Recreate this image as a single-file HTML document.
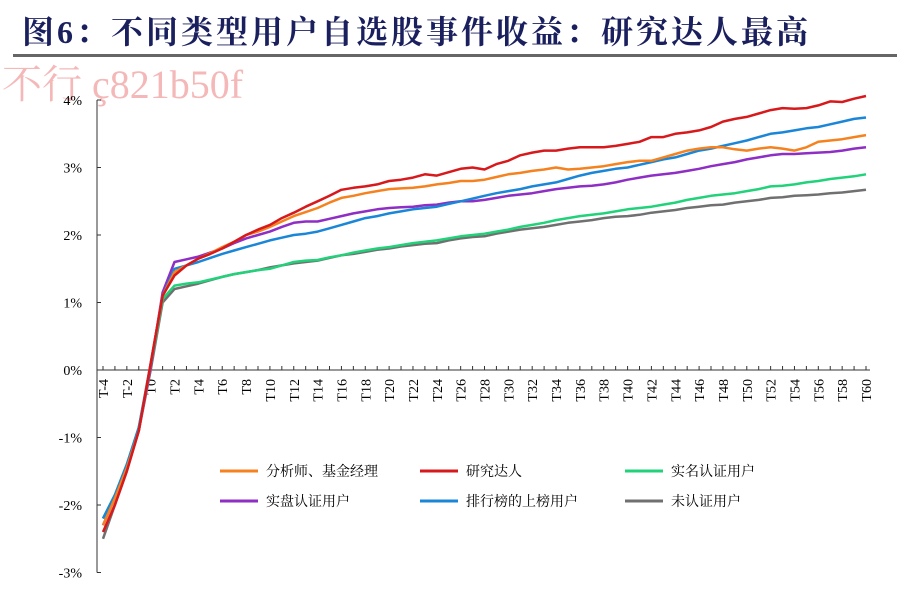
<!DOCTYPE html>
<html><head><meta charset="utf-8"><style>
body{margin:0;background:#fff;width:906px;height:586px;overflow:hidden;font-family:"Liberation Serif","Noto Serif CJK SC",serif}
</style></head><body>
<svg width="906" height="586" id="svg">
<text x="22" y="43" font-size="32" font-weight="bold" letter-spacing="3" fill="#1a1f5e" font-family="'Liberation Serif','Noto Serif CJK SC',serif">图6：不同类型用户自选股事件收益：研究达人最高</text>
<rect x="13" y="54" width="884" height="3" fill="#666"/>
<text x="2" y="98" font-size="40" fill="#f4b8b8" font-family="'Liberation Serif','Noto Serif CJK SC',serif">不行 ç821b50f</text>
<g id="axes"></g><g id="series"></g><g id="legend"></g>
</svg>
<script>
const categories=[];for(let i=-4;i<=60;i++)categories.push("T"+i);
const yTicks=[-3,-2,-1,0,1,2,3,4];
const seriesNames=["分析师、基金经理","研究达人","实名认证用户","实盘认证用户","排行榜的上榜用户","未认证用户"];
const seriesColors=["#f5821f","#d7191c","#21d27a","#8e2ec4","#1a86d8","#707070"];
const analyst=[-2.3,-1.9,-1.45,-0.9,0.1,1.1,1.45,1.55,1.65,1.73,1.82,1.9,2.0,2.05,2.12,2.2,2.28,2.34,2.4,2.48,2.55,2.58,2.62,2.65,2.68,2.69,2.7,2.72,2.75,2.77,2.8,2.8,2.82,2.86,2.9,2.92,2.95,2.97,3.0,2.97,2.98,3.0,3.02,3.05,3.08,3.1,3.1,3.15,3.2,3.25,3.28,3.3,3.3,3.27,3.25,3.28,3.3,3.28,3.25,3.3,3.38,3.4,3.42,3.45,3.48];
const expert=[-2.4,-2.0,-1.5,-0.9,0.1,1.1,1.4,1.55,1.65,1.72,1.8,1.9,2.0,2.08,2.15,2.25,2.33,2.42,2.5,2.58,2.67,2.7,2.72,2.75,2.8,2.82,2.85,2.9,2.88,2.93,2.98,3.0,2.97,3.05,3.1,3.18,3.22,3.25,3.25,3.28,3.3,3.3,3.3,3.32,3.35,3.38,3.45,3.45,3.5,3.52,3.55,3.6,3.68,3.72,3.75,3.8,3.85,3.88,3.87,3.88,3.92,3.98,3.97,4.02,4.06];
const realName=[-2.2,-1.85,-1.4,-0.85,0.05,1.05,1.25,1.28,1.3,1.34,1.38,1.42,1.45,1.48,1.5,1.55,1.6,1.62,1.63,1.67,1.7,1.74,1.77,1.8,1.82,1.85,1.88,1.9,1.92,1.95,1.98,2.0,2.02,2.05,2.08,2.12,2.15,2.18,2.22,2.25,2.28,2.3,2.32,2.35,2.38,2.4,2.42,2.45,2.48,2.52,2.55,2.58,2.6,2.62,2.65,2.68,2.72,2.73,2.75,2.78,2.8,2.83,2.85,2.87,2.9];
const realTrade=[-2.3,-1.9,-1.45,-0.9,0.05,1.15,1.6,1.64,1.68,1.74,1.8,1.88,1.95,2.0,2.05,2.12,2.18,2.2,2.2,2.24,2.28,2.32,2.35,2.38,2.4,2.41,2.42,2.44,2.45,2.48,2.5,2.5,2.52,2.55,2.58,2.6,2.62,2.65,2.68,2.7,2.72,2.73,2.75,2.78,2.82,2.85,2.88,2.9,2.92,2.95,2.98,3.02,3.05,3.08,3.12,3.15,3.18,3.2,3.2,3.21,3.22,3.23,3.25,3.28,3.3];
const ranked=[-2.2,-1.85,-1.4,-0.85,0.1,1.1,1.5,1.55,1.6,1.66,1.72,1.77,1.82,1.87,1.92,1.96,2.0,2.02,2.05,2.1,2.15,2.2,2.25,2.28,2.32,2.35,2.38,2.4,2.42,2.46,2.5,2.54,2.58,2.62,2.65,2.68,2.72,2.75,2.78,2.83,2.88,2.92,2.95,2.98,3.0,3.04,3.08,3.12,3.15,3.2,3.25,3.28,3.32,3.36,3.4,3.45,3.5,3.52,3.55,3.58,3.6,3.64,3.68,3.72,3.74];
const unverified=[-2.5,-2.0,-1.5,-0.9,0.0,1.0,1.2,1.24,1.28,1.33,1.38,1.42,1.45,1.48,1.52,1.55,1.58,1.6,1.62,1.66,1.7,1.72,1.75,1.78,1.8,1.83,1.85,1.87,1.88,1.92,1.95,1.97,1.98,2.02,2.05,2.08,2.1,2.12,2.15,2.18,2.2,2.22,2.25,2.27,2.28,2.3,2.33,2.35,2.37,2.4,2.42,2.44,2.45,2.48,2.5,2.52,2.55,2.56,2.58,2.59,2.6,2.62,2.63,2.65,2.67];
const seriesData=[analyst,expert,realName,realTrade,ranked,unverified];

const NS="http://www.w3.org/2000/svg";
const x=i=>103+i*(866-103)/(categories.length-1);
const y=v=>370-v*67.5;
function mk(tag,attrs,parent){const e=document.createElementNS(NS,tag);for(const k in attrs)e.setAttribute(k,attrs[k]);parent.appendChild(e);return e;}
const ax=document.getElementById("axes");
let e=mk("line",{x1:97,y1:y(4),x2:97,y2:y(-3),stroke:"#333","stroke-width":1},ax);


e=mk("line",{x1:97,y1:370,x2:870,y2:370,stroke:"#333","stroke-width":1},ax);


yTicks.forEach(t=>{
  mk("line",{x1:97,y1:y(t),x2:101,y2:y(t),stroke:"#333"},ax);
  const tx=mk("text",{x:82,y:y(t)+5,"font-size":14,"text-anchor":"end",fill:"#000"},ax);
  tx.textContent=t+"%";
  
  
});
categories.forEach((c,i)=>{
  mk("line",{x1:x(i),y1:370,x2:x(i),y2:366,stroke:"#333"},ax);
  if(i%2===0){
    const tx=mk("text",{transform:`translate(${x(i)+5},379) rotate(-90)`,"font-size":14,"text-anchor":"end",fill:"#000"},ax);
    tx.textContent=c;
    
    
  }
});
const sg=document.getElementById("series");
const order=[5,2,3,4,0,1];
order.forEach(s=>{
  const d=seriesData[s].map((v,i)=>(i?"L":"M")+x(i).toFixed(1)+","+y(v).toFixed(1)).join("");
  const p=mk("path",{d:d,fill:"none",stroke:seriesColors[s],"stroke-width":2.5,"stroke-linejoin":"round"},sg);
  
  
});
const lg=document.getElementById("legend");
const lx=[220,420,625],ly=[471,501];
seriesNames.forEach((n,i)=>{
  const X=lx[i%3],Y=ly[Math.floor(i/3)];
  const g=mk("g",{},lg);
  
  
  mk("line",{x1:X,y1:Y,x2:X+38,y2:Y,stroke:seriesColors[i],"stroke-width":3},g);
  const t=mk("text",{x:X+46,y:Y+5,"font-size":14,fill:"#000"},g);
  t.textContent=n;
});
</script>
</body></html>
